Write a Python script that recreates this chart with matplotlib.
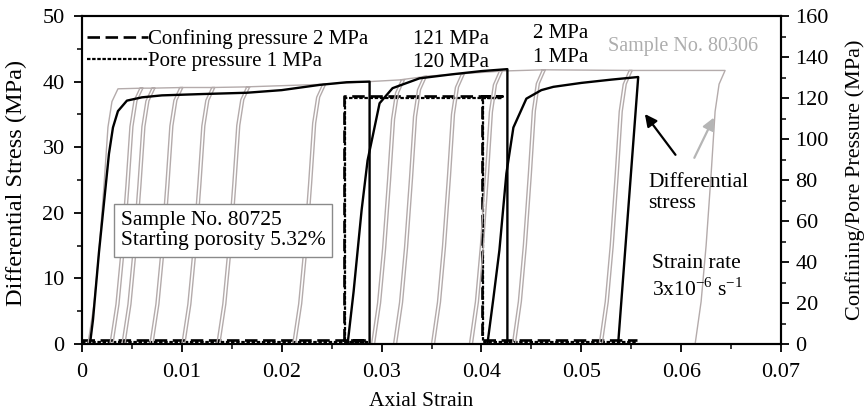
import numpy as np
import matplotlib
matplotlib.use("Agg")
import matplotlib.pyplot as plt
from matplotlib.ticker import MultipleLocator, FixedLocator, FixedFormatter

plt.rcParams['font.family'] = ['Liberation Serif', 'DejaVu Serif']
plt.rcParams['mathtext.fontset'] = 'custom'
plt.rcParams['mathtext.rm'] = 'Liberation Serif'
plt.rcParams['lines.scale_dashes'] = False

# ---------------- data ----------------
# Sample 80725 differential stress (black), three loading stages
seg1_strain = [0.0008, 0.0011, 0.0017, 0.0023, 0.0027, 0.0031, 0.0036, 0.0045, 0.0060, 0.0080,
               0.0120, 0.0165, 0.0200, 0.0238, 0.0265, 0.0288, 0.0288]
seg1_stress = [0.0, 3.7, 14.0, 23.0, 29.0, 33.0, 35.5, 37.1, 37.6, 37.9,
               38.1, 38.3, 38.7, 39.5, 39.9, 40.0, 0.2]
seg2_strain = [0.0266, 0.0272, 0.0280, 0.0286, 0.0291, 0.0298, 0.0311, 0.0338, 0.0370, 0.0400,
               0.0426, 0.0426]
seg2_stress = [0.0, 8.0, 20.4, 28.0, 31.6, 36.7, 39.0, 40.5, 41.1, 41.6,
               41.9, 0.3]
seg3_strain = [0.0406, 0.0412, 0.0418, 0.0425, 0.0432, 0.0445, 0.0460, 0.0472, 0.0500, 0.0530,
               0.0557, 0.0537]
seg3_stress = [0.0, 7.0, 14.3, 26.0, 33.0, 37.4, 38.7, 39.2, 39.8, 40.3,
               40.7, 0.2]

# Confining / pore pressure (MPa, right axis)
conf_strain = [0.0, 0.0285, 0.0262, 0.0262, 0.0421, 0.0401, 0.0401, 0.0556]
conf_press = [2, 2, 2, 121, 121, 121, 2, 2]
pore_strain = [0.0, 0.0285, 0.0263, 0.0263, 0.0421, 0.0402, 0.0402, 0.0556]
pore_press = [1, 1, 1, 120, 120, 120, 1, 1]

# Sample 80306 (grey): cyclic loading, reload base strains and plateau levels
gray_first_base = 0.0006
gray_first_level = 38.9
cycle_base = [0.0028, 0.0040, 0.0068, 0.0100, 0.0135, 0.0211, 0.0290, 0.0312,
              0.0350, 0.0388, 0.0431, 0.0518]
cycle_level = [39.0, 39.0, 39.1, 39.1, 39.2, 39.6, 40.3, 40.8,
               41.2, 41.6, 41.8, 41.7]
gray_final_base = 0.0611
gray_final_level = 41.7
# loading-branch shape (strain offset, fraction of plateau)
load_shape_dx = [0.0, 0.0006, 0.0011, 0.0016, 0.0020, 0.0024, 0.0030]
load_shape_fr = [0.0, 0.155, 0.36, 0.62, 0.85, 0.95, 1.0]
unload_shift = 0.0003

x_ticks = [0, 0.01, 0.02, 0.03, 0.04, 0.05, 0.06, 0.07]
x_labels = ['0', '0.01', '0.02', '0.03', '0.04', '0.05', '0.06', '0.07']
y_ticks = [0, 10, 20, 30, 40, 50]
y2_ticks = [0, 20, 40, 60, 80, 100, 120, 140, 160]

# ---------------- build grey polyline ----------------
gx, gy = [], []
def add_load(b, L):
    for dx, fr in zip(load_shape_dx, load_shape_fr):
        gx.append(b + dx); gy.append(fr * L)
def add_unload(b, L):
    for dx, fr in zip(reversed(load_shape_dx), reversed(load_shape_fr)):
        gx.append(b + unload_shift + dx); gy.append(fr * L)

add_load(gray_first_base, gray_first_level)
for b, L in zip(cycle_base, cycle_level):
    add_unload(b, L)
    add_load(b, L)
add_unload(gray_final_base, gray_final_level)

# ---------------- figure ----------------
fig = plt.figure(figsize=(8.66, 4.18), dpi=100)
ax = fig.add_axes([82/866, 74/418, 699/866, 328/418])
ax2 = ax.twinx()

gray = '#b4abab'
ax.plot(gx, gy, color=gray, lw=1.0, zorder=2)
for sx, sy in [(seg1_strain, seg1_stress), (seg2_strain, seg2_stress), (seg3_strain, seg3_stress)]:
    ax.plot(sx, sy, color='black', lw=1.7, zorder=4)

l1, = ax2.plot(conf_strain, conf_press, color='black', lw=1.9, dashes=(9, 4), zorder=5)
l2, = ax2.plot(pore_strain, pore_press, color='black', lw=1.6, dashes=(2.5, 1.2), zorder=5)

ax.set_xlim(0, 0.07)
ax.set_ylim(0, 50)
ax2.set_ylim(0, 160)
ax.set_zorder(ax2.get_zorder() + 1)
ax.patch.set_visible(False)

ax.xaxis.set_major_locator(FixedLocator(x_ticks))
ax.xaxis.set_major_formatter(FixedFormatter(x_labels))
ax.xaxis.set_minor_locator(MultipleLocator(0.005))
ax.yaxis.set_major_locator(FixedLocator(y_ticks))
ax.yaxis.set_minor_locator(MultipleLocator(5))
ax2.yaxis.set_major_locator(FixedLocator(y2_ticks))
ax2.yaxis.set_minor_locator(MultipleLocator(10))

for a in (ax, ax2):
    a.tick_params(which='major', direction='out', length=5.5, width=1.3, labelsize=16)
    a.tick_params(which='minor', direction='out', length=3.5, width=1.1)
    for s in a.spines.values():
        s.set_linewidth(1.5)
ax.tick_params(axis='x', pad=8)
ax.tick_params(axis='y', pad=7)
ax2.tick_params(axis='y', pad=5)

ax.set_xlabel('Axial Strain', fontsize=15.5)
ax.set_ylabel('Differential Stress (MPa)', fontsize=17.5)
ax2.set_ylabel('Confining/Pore Pressure (MPa)', fontsize=16)
ax.xaxis.set_label_coords(0.485, -0.146)
ax.yaxis.set_label_coords(-0.078, 0.49)
ax2.yaxis.set_label_coords(1.0915, 0.5)

leg = ax.legend([l1, l2], ['Confining pressure 2 MPa', 'Pore pressure 1 MPa'],
                loc='upper left', bbox_to_anchor=(0.0, 0.975), frameon=False,
                fontsize=15, handlelength=2.9, handletextpad=0.0,
                labelspacing=0.1, borderaxespad=0.15, borderpad=0.1)

ax.text(0.0370, 46.4, '121 MPa', ha='center', va='center', fontsize=15)
ax.text(0.0370, 42.9, '120 MPa', ha='center', va='center', fontsize=15)
ax.text(0.0479, 47.4, '2 MPa', ha='center', va='center', fontsize=15)
ax.text(0.0479, 43.6, '1 MPa', ha='center', va='center', fontsize=15)
ax.text(0.0602, 45.3, 'Sample No. 80306', ha='center', va='center', fontsize=14.5, color='#adadad')

ax.text(0.0039, 17.3, 'Sample No. 80725\nStarting porosity 5.32%', ha='left', va='center',
        fontsize=15.5, linespacing=1.1, zorder=6,
        bbox=dict(boxstyle='square,pad=0.3', fc='white', ec='#8a8a8a', lw=1.0))
ax.text(0.0567, 23.0, 'Differential\nstress', ha='left', va='center', fontsize=15.5, linespacing=1.15)
ax.text(0.0571, 12.3, 'Strain rate', ha='left', va='center', fontsize=15.5)
ax.text(0.0571, 8.3, r'3x10$^{\mathrm{-6}}$ s$^{\mathrm{-1}}$', ha='left', va='center', fontsize=15.5)

ax.annotate('', xy=(0.0562, 35.4), xytext=(0.0596, 28.5),
            arrowprops=dict(arrowstyle='-|>', color='black', lw=1.6, mutation_scale=18))
ax.annotate('', xy=(0.0634, 34.9), xytext=(0.0612, 28.0),
            arrowprops=dict(arrowstyle='-|>', color='#b5b5b5', lw=1.6, mutation_scale=18))

fig.savefig('out.png', dpi=100)
